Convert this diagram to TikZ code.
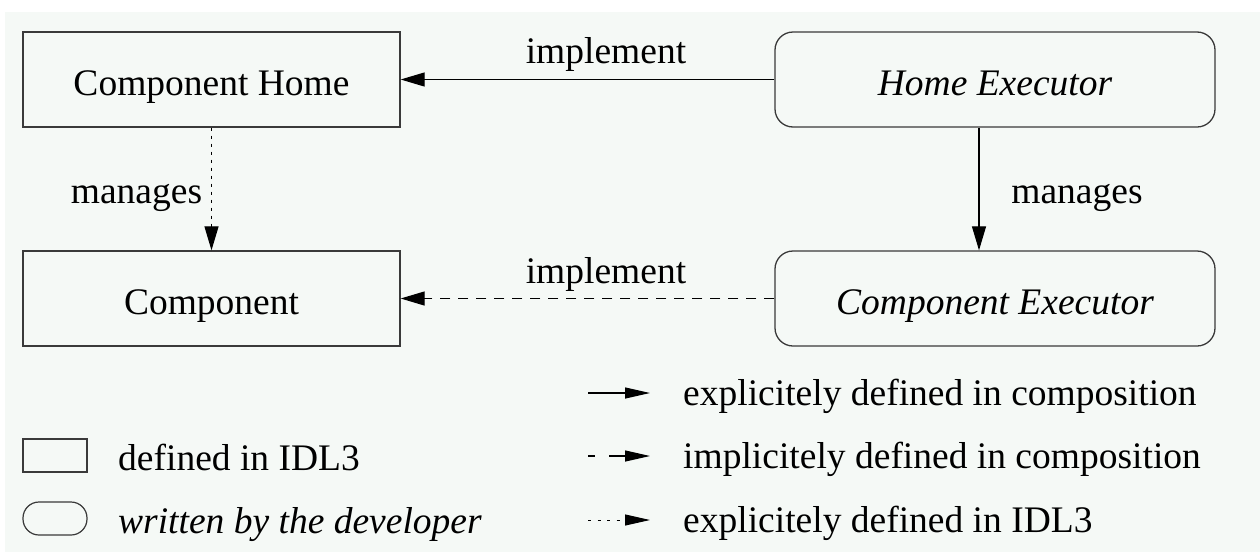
\documentclass[tikz,border=0pt]{standalone}
\usepackage{fontspec}
\setmainfont{Liberation Serif}
\usetikzlibrary{arrows.meta}
\definecolor{bgc}{RGB}{245,249,246}
\definecolor{edgec}{RGB}{58,58,58}
\newcommand{\bigfont}{\fontsize{37.5}{45}\selectfont}
\tikzset{
  idlbox/.style={draw=edgec, line width=1.3pt, minimum width=377pt, minimum height=95pt,
    inner sep=0pt, text height=32pt, text depth=0pt, anchor=center},
  devbox/.style={idlbox, rounded corners=18pt, font=\bigfont\itshape},
  lbl/.style={inner sep=0pt, anchor=base},
  ltext/.style={inner sep=0pt, anchor=base west},
  tip/.style={-{Triangle[length=24pt,width=14pt]}},
  ltip/.style={-{Triangle[length=25pt,width=11pt]}},
  conn/.style={line width=1.2pt, black},
  solidarrow/.style={conn, tip},
  dasharrow/.style={conn, tip, dash pattern=on 10pt off 8pt},
  dotarrow/.style={conn, tip, dash pattern=on 3.5pt off 4.5pt},
}
\begin{document}
\begin{tikzpicture}[x=1pt, y=-1pt, font=\bigfont]
\useasboundingbox (0,0) rectangle (1260,552);
\fill[bgc] (5,12) rectangle (1260,552);

% main boxes
\node[idlbox] (ch) at (211.5,79.5) {Component Home};
\node[idlbox] (cp) at (211.5,298.5) {Component};
\node[devbox, minimum width=440pt] (he) at (995,79.5) {Home Executor};
\node[devbox, minimum width=440pt] (ce) at (995,298.5) {Component Executor};

% connectors
\draw[solidarrow] (he.west) -- (ch.east);
\draw[dasharrow] (ce.west) -- (cp.east);
\draw[dotarrow] (ch.south) -- (cp.north);
\draw[solidarrow] ([xshift=-16pt]he.south) -- ([xshift=-16pt]ce.north);

% labels
\node[lbl] (l1) at (606,63) {implement};
\node[lbl] (l2) at (606,283) {implement};
\node[lbl] (l3) at (136.5,203) {manages};
\node[lbl] (l4) at (1077,203) {manages};

% legend left
\node[draw=edgec, line width=1.2pt, minimum width=64pt, minimum height=33pt, inner sep=0pt] (lr) at (55,455.5) {};
\node[ltext] (lrt) at (118,470) {defined in IDL3};
\node[draw=edgec, line width=1.2pt, minimum width=64pt, minimum height=33pt, inner sep=0pt, rounded corners=16pt] (lo) at (55,518.5) {};
\node[ltext, font=\bigfont\itshape] (lot) at (118,533) {written by the developer};

% legend right
\coordinate (a1) at (588,393); \coordinate (b1) at (650,393);
\coordinate (a2) at (588,456); \coordinate (b2) at (650,456);
\coordinate (a3) at (588,520); \coordinate (b3) at (650,520);
\draw[conn, ltip] (a1) -- (b1);
\draw[conn, ltip, dash pattern=on 7pt off 14pt on 20pt off 0pt] (a2) -- (b2);
\draw[conn, ltip, line width=1pt, dash pattern=on 3pt off 6.5pt] (a3) -- (b3);
\node[ltext] (t1) at (683,405) {explicitely defined in composition};
\node[ltext] (t2) at (683,468) {implicitely defined in composition};
\node[ltext] (t3) at (683,532) {explicitely defined in IDL3};
\end{tikzpicture}
\end{document}
